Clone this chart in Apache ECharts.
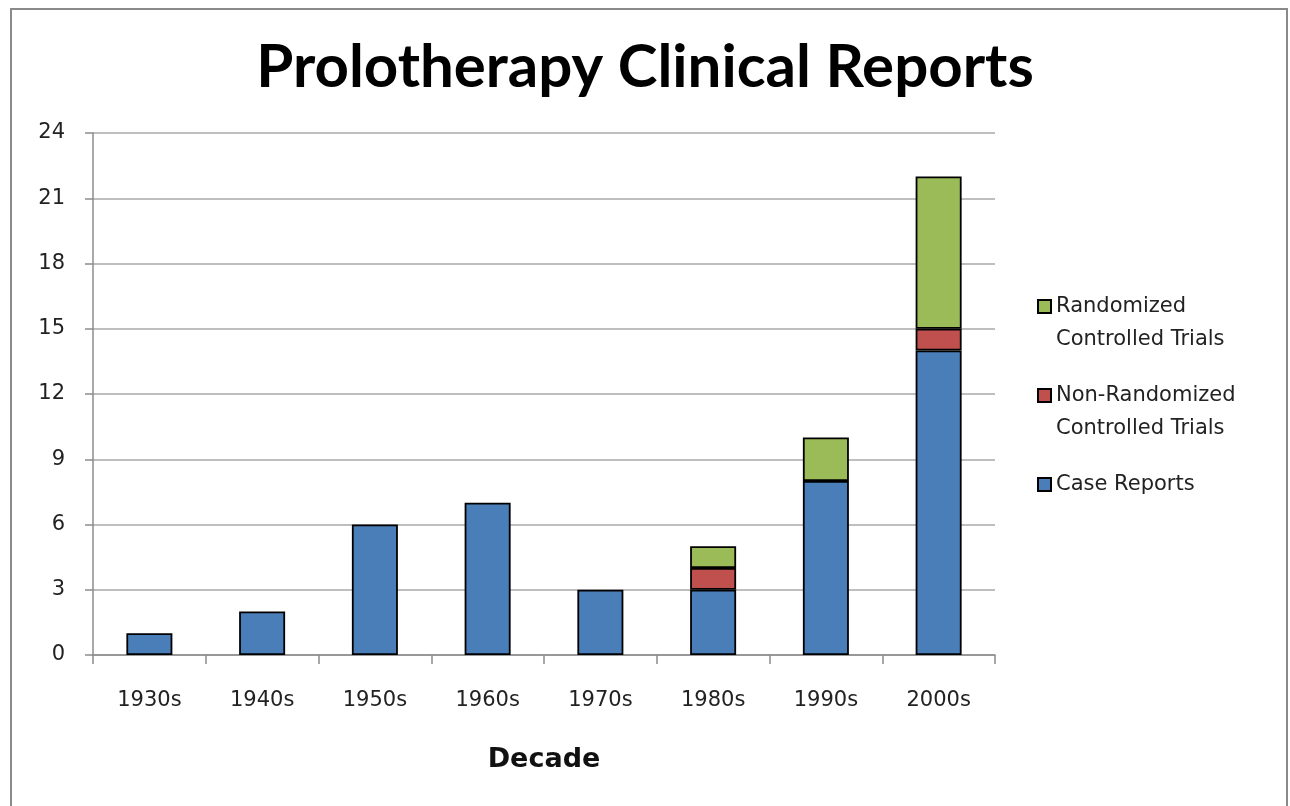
<!DOCTYPE html>
<html>
<head>
<meta charset="utf-8">
<script src="https://cdn.jsdelivr.net/npm/echarts@6/dist/echarts.min.js"></script>
<style>
    body { margin: 0; background: #fff; }
    #frame { position: absolute; left: 10px; top: 8px; width: 1274px; height: 830px; border: 2px solid #8a8a8a; }
    #chart { position: absolute; left: 0; top: 0; width: 1290px; height: 806px; }
</style>
</head>
<body>
<div id="frame"></div>
<div id="chart"></div>
<script>
// data
var decades = ['1930s', '1940s', '1950s', '1960s', '1970s', '1980s', '1990s', '2000s'];
var caseReports = [1, 2, 6, 7, 3, 3, 8, 14];
var nonRandomized = ['-', '-', '-', '-', '-', 1, '-', 1];
var randomized = ['-', '-', '-', '-', '-', 1, 2, 7];
var yTicks = [0, 3, 6, 9, 12, 15, 18, 21, 24];

var chart = echarts.init(document.getElementById('chart'));

var labelFont = 'DejaVu Sans';

// one legend per item so the square sits on the first text line
function legendBox(name, top) {
    return {
        data: [name],
        orient: 'vertical',
        left: 1032,
        top: top,
        icon: 'rect',
        itemWidth: 13,
        itemHeight: 13,
        itemGap: 0,
        selectedMode: false,
        formatter: function (n) {
            if (n.indexOf(' Controlled') < 0) return n;
            return '\n' + n.replace(' Controlled', '\nControlled');
        },
        textStyle: {
            fontFamily: labelFont,
            fontSize: 21,
            color: '#222',
            lineHeight: 33
        }
    };
}

var barBorder = { borderColor: '#000', borderWidth: 1.8 };

var option = {
    animation: false,
    title: {
        text: 'Prolotherapy Clinical Reports',
        left: 'center',
        top: 33,
        textStyle: {
            fontFamily: 'Lato',
            fontWeight: 'bold',
            fontSize: 60,
            color: '#000'
        }
    },
    legend: [
        legendBox('Randomized Controlled Trials', 252),
        legendBox('Non-Randomized Controlled Trials', 341),
        legendBox('Case Reports', 463)
    ],
    grid: {
        left: 93,
        right: 295,
        top: 133,
        bottom: 151
    },
    xAxis: {
        type: 'category',
        data: decades,
        name: 'Decade',
        nameLocation: 'middle',
        nameGap: 91,
        nameTextStyle: {
            fontFamily: labelFont,
            fontWeight: 'bold',
            fontSize: 27,
            color: '#111'
        },
        axisLine: { lineStyle: { color: '#8c8c8c', width: 1.5 } },
        axisTick: { show: true, length: 9, lineStyle: { color: '#8c8c8c', width: 1.5 } },
        axisLabel: {
            margin: 35,
            fontFamily: labelFont,
            fontSize: 21,
            color: '#222'
        }
    },
    yAxis: {
        type: 'value',
        min: yTicks[0],
        max: yTicks[yTicks.length - 1],
        interval: 3,
        axisLine: { show: true, lineStyle: { color: '#8c8c8c', width: 1.5 } },
        axisTick: { show: true, length: 8, lineStyle: { color: '#8c8c8c', width: 1.5 } },
        splitLine: { lineStyle: { color: '#a8a8a8', width: 1.5 } },
        axisLabel: {
            margin: 28,
            fontFamily: labelFont,
            fontSize: 21,
            color: '#222'
        }
    },
    series: [
        {
            name: 'Case Reports',
            type: 'bar',
            stack: 'total',
            barWidth: 46,
            itemStyle: Object.assign({ color: '#4a7eb8' }, barBorder),
            data: caseReports
        },
        {
            name: 'Non-Randomized Controlled Trials',
            type: 'bar',
            stack: 'total',
            barWidth: 46,
            itemStyle: Object.assign({ color: '#c0504d' }, barBorder),
            data: nonRandomized
        },
        {
            name: 'Randomized Controlled Trials',
            type: 'bar',
            stack: 'total',
            barWidth: 46,
            itemStyle: Object.assign({ color: '#9bbb59' }, barBorder),
            data: randomized
        }
    ]
};

chart.setOption(option);
</script>
</body>
</html>
